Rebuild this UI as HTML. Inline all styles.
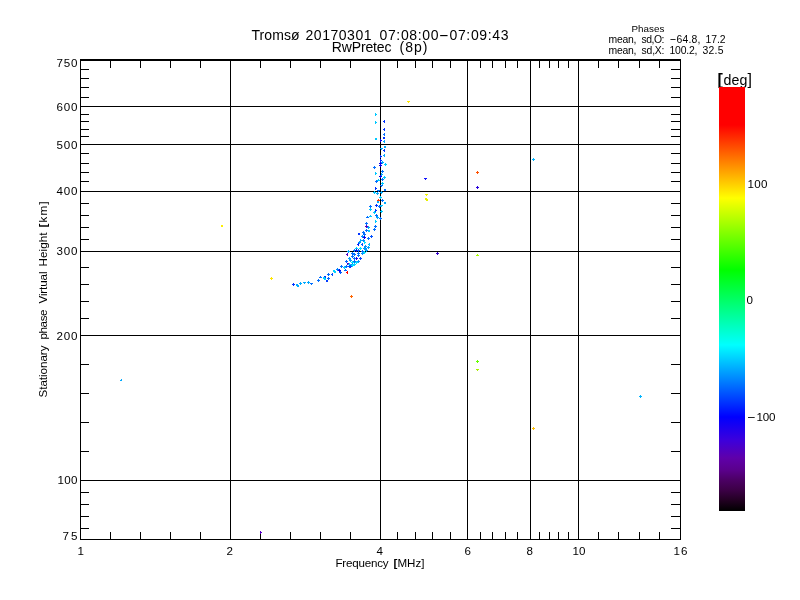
<!DOCTYPE html>
<html><head><meta charset="utf-8"><title>Tromso phases</title>
<style>
html,body{margin:0;padding:0;background:#fff;}
body{width:800px;height:600px;overflow:hidden;}
svg{display:block;}
text{font-family:"Liberation Sans",sans-serif;fill:#000;}
</style></head><body>
<div style="will-change:transform;width:800px;height:600px;">
<svg width="800" height="600" viewBox="0 0 800 600">
<rect x="0" y="0" width="800" height="600" fill="#fff"/>
<defs><linearGradient id="cb" gradientUnits="userSpaceOnUse" x1="0" y1="87" x2="0" y2="511">
<stop offset="0.0000" stop-color="rgb(255,0,0)"/><stop offset="0.0896" stop-color="rgb(255,0,0)"/><stop offset="0.2618" stop-color="rgb(255,255,0)"/><stop offset="0.4316" stop-color="rgb(0,255,0)"/><stop offset="0.6085" stop-color="rgb(0,255,255)"/><stop offset="0.7783" stop-color="rgb(0,0,255)"/><stop offset="0.8325" stop-color="rgb(60,0,220)"/><stop offset="0.8750" stop-color="rgb(95,0,170)"/><stop offset="0.9033" stop-color="rgb(90,0,140)"/><stop offset="0.9269" stop-color="rgb(75,0,100)"/><stop offset="0.9505" stop-color="rgb(60,0,70)"/><stop offset="0.9741" stop-color="rgb(35,0,35)"/><stop offset="1.0000" stop-color="rgb(0,0,0)"/>
</linearGradient></defs>
<g fill="#000" shape-rendering="crispEdges">
<rect x="80" y="59" width="601" height="2"/><rect x="80" y="539" width="601" height="1"/><rect x="80" y="59" width="1" height="481"/><rect x="680" y="59" width="1" height="481"/><rect x="80" y="106" width="601" height="1"/><rect x="80" y="144" width="601" height="1"/><rect x="80" y="191" width="601" height="1"/><rect x="80" y="251" width="601" height="1"/><rect x="80" y="335" width="601" height="1"/><rect x="80" y="480" width="601" height="1"/><rect x="230" y="59" width="1" height="481"/><rect x="380" y="59" width="1" height="481"/><rect x="467" y="59" width="1" height="481"/><rect x="530" y="59" width="1" height="481"/><rect x="578" y="59" width="1" height="481"/><rect x="80" y="69" width="9" height="1"/><rect x="671" y="69" width="10" height="1"/><rect x="80" y="78" width="9" height="1"/><rect x="671" y="78" width="10" height="1"/><rect x="80" y="87" width="9" height="1"/><rect x="671" y="87" width="10" height="1"/><rect x="80" y="97" width="9" height="1"/><rect x="671" y="97" width="10" height="1"/><rect x="80" y="106" width="9" height="1"/><rect x="671" y="106" width="10" height="1"/><rect x="80" y="114" width="9" height="1"/><rect x="671" y="114" width="10" height="1"/><rect x="80" y="121" width="9" height="1"/><rect x="671" y="121" width="10" height="1"/><rect x="80" y="129" width="9" height="1"/><rect x="671" y="129" width="10" height="1"/><rect x="80" y="136" width="9" height="1"/><rect x="671" y="136" width="10" height="1"/><rect x="80" y="144" width="9" height="1"/><rect x="671" y="144" width="10" height="1"/><rect x="80" y="153" width="9" height="1"/><rect x="671" y="153" width="10" height="1"/><rect x="80" y="163" width="9" height="1"/><rect x="671" y="163" width="10" height="1"/><rect x="80" y="172" width="9" height="1"/><rect x="671" y="172" width="10" height="1"/><rect x="80" y="181" width="9" height="1"/><rect x="671" y="181" width="10" height="1"/><rect x="80" y="191" width="9" height="1"/><rect x="671" y="191" width="10" height="1"/><rect x="80" y="203" width="9" height="1"/><rect x="671" y="203" width="10" height="1"/><rect x="80" y="215" width="9" height="1"/><rect x="671" y="215" width="10" height="1"/><rect x="80" y="227" width="9" height="1"/><rect x="671" y="227" width="10" height="1"/><rect x="80" y="239" width="9" height="1"/><rect x="671" y="239" width="10" height="1"/><rect x="80" y="251" width="9" height="1"/><rect x="671" y="251" width="10" height="1"/><rect x="80" y="267" width="9" height="1"/><rect x="671" y="267" width="10" height="1"/><rect x="80" y="284" width="9" height="1"/><rect x="671" y="284" width="10" height="1"/><rect x="80" y="301" width="9" height="1"/><rect x="671" y="301" width="10" height="1"/><rect x="80" y="318" width="9" height="1"/><rect x="671" y="318" width="10" height="1"/><rect x="80" y="335" width="9" height="1"/><rect x="671" y="335" width="10" height="1"/><rect x="80" y="364" width="9" height="1"/><rect x="671" y="364" width="10" height="1"/><rect x="80" y="393" width="9" height="1"/><rect x="671" y="393" width="10" height="1"/><rect x="80" y="422" width="9" height="1"/><rect x="671" y="422" width="10" height="1"/><rect x="80" y="451" width="9" height="1"/><rect x="671" y="451" width="10" height="1"/><rect x="80" y="480" width="9" height="1"/><rect x="671" y="480" width="10" height="1"/><rect x="80" y="492" width="9" height="1"/><rect x="671" y="492" width="10" height="1"/><rect x="80" y="504" width="9" height="1"/><rect x="671" y="504" width="10" height="1"/><rect x="80" y="516" width="9" height="1"/><rect x="671" y="516" width="10" height="1"/><rect x="80" y="528" width="9" height="1"/><rect x="671" y="528" width="10" height="1"/><rect x="110" y="59" width="1" height="9"/><rect x="110" y="532" width="1" height="8"/><rect x="140" y="59" width="1" height="9"/><rect x="140" y="532" width="1" height="8"/><rect x="170" y="59" width="1" height="9"/><rect x="170" y="532" width="1" height="8"/><rect x="200" y="59" width="1" height="9"/><rect x="200" y="532" width="1" height="8"/><rect x="230" y="59" width="1" height="9"/><rect x="230" y="532" width="1" height="8"/><rect x="260" y="59" width="1" height="9"/><rect x="260" y="532" width="1" height="8"/><rect x="290" y="59" width="1" height="9"/><rect x="290" y="532" width="1" height="8"/><rect x="320" y="59" width="1" height="9"/><rect x="320" y="532" width="1" height="8"/><rect x="350" y="59" width="1" height="9"/><rect x="350" y="532" width="1" height="8"/><rect x="380" y="59" width="1" height="9"/><rect x="380" y="532" width="1" height="8"/><rect x="397" y="59" width="1" height="9"/><rect x="397" y="532" width="1" height="8"/><rect x="415" y="59" width="1" height="9"/><rect x="415" y="532" width="1" height="8"/><rect x="432" y="59" width="1" height="9"/><rect x="432" y="532" width="1" height="8"/><rect x="450" y="59" width="1" height="9"/><rect x="450" y="532" width="1" height="8"/><rect x="467" y="59" width="1" height="9"/><rect x="467" y="532" width="1" height="8"/><rect x="480" y="59" width="1" height="9"/><rect x="480" y="532" width="1" height="8"/><rect x="492" y="59" width="1" height="9"/><rect x="492" y="532" width="1" height="8"/><rect x="505" y="59" width="1" height="9"/><rect x="505" y="532" width="1" height="8"/><rect x="517" y="59" width="1" height="9"/><rect x="517" y="532" width="1" height="8"/><rect x="530" y="59" width="1" height="9"/><rect x="530" y="532" width="1" height="8"/><rect x="539" y="59" width="1" height="9"/><rect x="539" y="532" width="1" height="8"/><rect x="549" y="59" width="1" height="9"/><rect x="549" y="532" width="1" height="8"/><rect x="558" y="59" width="1" height="9"/><rect x="558" y="532" width="1" height="8"/><rect x="568" y="59" width="1" height="9"/><rect x="568" y="532" width="1" height="8"/><rect x="578" y="59" width="1" height="9"/><rect x="578" y="532" width="1" height="8"/><rect x="598" y="59" width="1" height="9"/><rect x="598" y="532" width="1" height="8"/><rect x="618" y="59" width="1" height="9"/><rect x="618" y="532" width="1" height="8"/><rect x="639" y="59" width="1" height="9"/><rect x="639" y="532" width="1" height="8"/><rect x="659" y="59" width="1" height="9"/><rect x="659" y="532" width="1" height="8"/>
</g>
<g shape-rendering="crispEdges">
<path d="M407 101h1v1h-1zM408 101h1v1h-1zM409 101h1v1h-1zM408 102h1v1h-1z" fill="rgb(255,230,0)"/><path d="M221 225h1v1h-1zM222 225h1v1h-1zM221 226h1v1h-1zM222 226h1v1h-1z" fill="rgb(255,240,0)"/><path d="M271 277h1v1h-1zM270 278h1v1h-1zM271 278h1v1h-1zM272 278h1v1h-1zM271 279h1v1h-1z" fill="rgb(255,230,0)"/><path d="M351 295h1v1h-1zM350 296h1v1h-1zM351 296h1v1h-1zM352 296h1v1h-1zM351 297h1v1h-1z" fill="rgb(255,100,0)"/><path d="M424 178h1v1h-1zM425 178h1v1h-1zM426 178h1v1h-1zM425 179h1v1h-1z" fill="rgb(20,20,255)"/><path d="M477 171h1v1h-1zM476 172h1v1h-1zM477 172h1v1h-1zM478 172h1v1h-1zM477 173h1v1h-1z" fill="rgb(255,80,0)"/><path d="M477 186h1v1h-1zM476 187h1v1h-1zM477 187h1v1h-1zM478 187h1v1h-1zM477 188h1v1h-1z" fill="rgb(40,0,220)"/><path d="M533 158h1v1h-1zM532 159h1v1h-1zM533 159h1v1h-1zM534 159h1v1h-1zM533 160h1v1h-1z" fill="rgb(0,180,255)"/><path d="M425 194h1v1h-1zM426 194h1v1h-1zM427 194h1v1h-1zM426 195h1v1h-1z" fill="rgb(240,240,0)"/><path d="M426 198h1v1h-1zM425 199h1v1h-1zM426 199h1v1h-1zM427 199h1v1h-1zM426 200h1v1h-1zM427 200h1v1h-1zM425 198h1v1h-1z" fill="rgb(230,240,0)"/><path d="M437 252h1v1h-1zM436 253h1v1h-1zM437 253h1v1h-1zM438 253h1v1h-1zM437 254h1v1h-1z" fill="rgb(50,0,200)"/><path d="M477 254h1v1h-1zM476 255h1v1h-1zM477 255h1v1h-1zM478 255h1v1h-1z" fill="rgb(170,255,0)"/><path d="M477 360h1v1h-1zM476 361h1v1h-1zM477 361h1v1h-1zM478 361h1v1h-1zM477 362h1v1h-1z" fill="rgb(100,255,0)"/><path d="M476 369h1v1h-1zM477 369h1v1h-1zM478 369h1v1h-1zM477 370h1v1h-1z" fill="rgb(170,240,0)"/><path d="M533 427h1v1h-1zM532 428h1v1h-1zM533 428h1v1h-1zM534 428h1v1h-1zM533 429h1v1h-1z" fill="rgb(255,190,0)"/><path d="M640 395h1v1h-1zM639 396h1v1h-1zM640 396h1v1h-1zM641 396h1v1h-1zM640 397h1v1h-1z" fill="rgb(0,180,255)"/><path d="M121 379h1v2h-2v-1h1z" fill="rgb(0,170,255)"/><path d="M260 531h1v1h1v1h-1v1h-1z" fill="rgb(90,0,200)"/><path d="M376 114h1v1h-1zM375 113h1v1h-1zM375 114h1v1h-1zM375 115h1v1h-1z" fill="rgb(0,200,255)"/><path d="M376 122h1v1h-1zM375 121h1v1h-1zM375 122h1v1h-1zM375 123h1v1h-1z" fill="rgb(0,200,255)"/><path d="M383 121h1v1h-1zM384 120h1v1h-1zM384 121h1v1h-1zM384 122h1v1h-1z" fill="rgb(0,50,255)"/><path d="M383 129h1v1h-1zM384 128h1v1h-1zM384 129h1v1h-1zM384 130h1v1h-1z" fill="rgb(0,50,255)"/><path d="M383 134h1v1h-1zM384 133h1v1h-1zM384 134h1v1h-1zM384 135h1v1h-1z" fill="rgb(0,110,255)"/><path d="M383 137h1v1h-1zM384 137h1v1h-1zM383 138h1v1h-1zM384 138h1v1h-1z" fill="rgb(0,50,255)"/><path d="M375 138h1v1h-1zM376 138h1v1h-1zM375 139h1v1h-1zM376 139h1v1h-1z" fill="rgb(0,200,255)"/><path d="M381 140h1v1h-1zM380 139h1v1h-1zM380 140h1v1h-1zM380 141h1v1h-1z" fill="rgb(10,0,235)"/><path d="M383 141h1v1h-1zM384 140h1v1h-1zM384 141h1v1h-1zM384 142h1v1h-1z" fill="rgb(0,170,255)"/><path d="M384 146h1v1h-1zM385 146h1v1h-1zM384 147h1v1h-1zM385 147h1v1h-1z" fill="rgb(0,170,255)"/><path d="M380 148h1v1h-1zM381 148h1v1h-1zM382 148h1v1h-1zM381 149h1v1h-1z" fill="rgb(0,170,255)"/><path d="M383 150h1v1h-1zM384 149h1v1h-1zM384 150h1v1h-1zM384 151h1v1h-1z" fill="rgb(0,50,255)"/><path d="M383 155h1v1h-1zM384 154h1v1h-1zM384 155h1v1h-1zM384 156h1v1h-1z" fill="rgb(0,170,255)"/><path d="M381 156h1v1h-1zM380 155h1v1h-1zM380 156h1v1h-1zM380 157h1v1h-1z" fill="rgb(0,50,255)"/><path d="M381 160h1v1h-1zM380 159h1v1h-1zM380 160h1v1h-1zM380 161h1v1h-1z" fill="rgb(0,50,255)"/><path d="M380 162h1v1h-1zM379 163h1v1h-1zM380 163h1v1h-1zM381 163h1v1h-1zM380 164h1v1h-1z" fill="rgb(10,0,235)"/><path d="M380 164h1v1h-1zM379 165h1v1h-1zM380 165h1v1h-1zM381 165h1v1h-1zM380 166h1v1h-1z" fill="rgb(10,0,235)"/><path d="M382 161h1v1h-1zM381 162h1v1h-1zM382 162h1v1h-1zM383 162h1v1h-1zM382 163h1v1h-1z" fill="rgb(0,170,255)"/><path d="M385 163h1v1h-1zM384 164h1v1h-1zM385 164h1v1h-1zM386 164h1v1h-1zM385 165h1v1h-1z" fill="rgb(0,200,255)"/><path d="M374 166h1v1h-1zM373 167h1v1h-1zM374 167h1v1h-1zM375 167h1v1h-1zM374 168h1v1h-1z" fill="rgb(0,110,255)"/><path d="M376 173h1v1h-1zM375 172h1v1h-1zM375 173h1v1h-1zM375 174h1v1h-1z" fill="rgb(0,200,255)"/><path d="M382 170h1v1h-1zM381 171h1v1h-1zM382 171h1v1h-1zM383 171h1v1h-1zM382 172h1v1h-1z" fill="rgb(0,110,255)"/><path d="M382 174h1v1h-1zM381 173h1v1h-1zM381 174h1v1h-1zM381 175h1v1h-1z" fill="rgb(0,170,255)"/><path d="M380 175h1v1h-1zM379 176h1v1h-1zM380 176h1v1h-1zM381 176h1v1h-1zM380 177h1v1h-1z" fill="rgb(10,0,235)"/><path d="M384 176h1v1h-1zM383 177h1v1h-1zM384 177h1v1h-1zM385 177h1v1h-1zM384 178h1v1h-1z" fill="rgb(0,200,255)"/><path d="M382 178h1v1h-1zM381 179h1v1h-1zM382 179h1v1h-1zM383 179h1v1h-1zM382 180h1v1h-1z" fill="rgb(0,110,255)"/><path d="M376 180h1v1h-1zM375 181h1v1h-1zM376 181h1v1h-1zM377 181h1v1h-1zM376 182h1v1h-1z" fill="rgb(0,110,255)"/><path d="M378 179h1v1h-1zM377 180h1v1h-1zM378 180h1v1h-1zM379 180h1v1h-1z" fill="rgb(0,200,255)"/><path d="M382 182h1v1h-1zM381 183h1v1h-1zM382 183h1v1h-1zM383 183h1v1h-1zM382 184h1v1h-1z" fill="rgb(0,200,255)"/><path d="M380 185h1v1h-1zM381 185h1v1h-1zM382 185h1v1h-1zM381 186h1v1h-1z" fill="rgb(0,110,255)"/><path d="M376 188h1v1h-1zM375 187h1v1h-1zM375 188h1v1h-1zM375 189h1v1h-1z" fill="rgb(0,50,255)"/><path d="M377 190h1v1h-1zM378 190h1v1h-1zM379 190h1v1h-1zM378 191h1v1h-1z" fill="rgb(0,110,255)"/><path d="M384 189h1v1h-1zM385 189h1v1h-1zM384 190h1v1h-1zM385 190h1v1h-1z" fill="rgb(0,110,255)"/><path d="M374 191h1v1h-1zM373 192h1v1h-1zM374 192h1v1h-1zM375 192h1v1h-1zM374 193h1v1h-1z" fill="rgb(0,200,255)"/><path d="M381 191h1v1h-1zM380 192h1v1h-1zM381 192h1v1h-1zM382 192h1v1h-1zM381 193h1v1h-1z" fill="rgb(0,170,255)"/><path d="M377 192h1v1h-1zM376 193h1v1h-1zM377 193h1v1h-1zM378 193h1v1h-1zM377 194h1v1h-1z" fill="rgb(0,170,255)"/><path d="M380 196h1v1h-1zM379 197h1v1h-1zM380 197h1v1h-1zM381 197h1v1h-1zM380 198h1v1h-1z" fill="rgb(0,200,255)"/><path d="M378 199h1v1h-1zM377 200h1v1h-1zM378 200h1v1h-1zM379 200h1v1h-1z" fill="rgb(255,50,0)"/><path d="M382 199h1v1h-1zM381 200h1v1h-1zM382 200h1v1h-1zM383 200h1v1h-1zM382 201h1v1h-1z" fill="rgb(0,110,255)"/><path d="M377 201h1v1h-1zM378 201h1v1h-1zM377 202h1v1h-1zM378 202h1v1h-1z" fill="rgb(0,170,255)"/><path d="M384 202h1v1h-1zM385 202h1v1h-1zM384 203h1v1h-1zM385 203h1v1h-1z" fill="rgb(0,170,255)"/><path d="M370 205h1v1h-1zM369 206h1v1h-1zM370 206h1v1h-1zM371 206h1v1h-1zM370 207h1v1h-1z" fill="rgb(0,110,255)"/><path d="M370 208h1v1h-1zM369 209h1v1h-1zM370 209h1v1h-1zM371 209h1v1h-1zM370 210h1v1h-1z" fill="rgb(0,200,255)"/><path d="M376 204h1v1h-1zM375 205h1v1h-1zM376 205h1v1h-1zM377 205h1v1h-1zM376 206h1v1h-1z" fill="rgb(0,50,255)"/><path d="M379 205h1v1h-1zM378 206h1v1h-1zM379 206h1v1h-1zM380 206h1v1h-1zM379 207h1v1h-1z" fill="rgb(0,110,255)"/><path d="M380 205h1v1h-1zM381 205h1v1h-1zM382 205h1v1h-1zM381 206h1v1h-1z" fill="rgb(0,200,255)"/><path d="M376 210h1v1h-1zM375 209h1v1h-1zM375 210h1v1h-1zM375 211h1v1h-1z" fill="rgb(0,50,255)"/><path d="M381 210h1v1h-1zM380 211h1v1h-1zM381 211h1v1h-1zM382 211h1v1h-1zM381 212h1v1h-1z" fill="rgb(0,200,255)"/><path d="M374 211h1v1h-1zM373 212h1v1h-1zM374 212h1v1h-1zM375 212h1v1h-1zM374 213h1v1h-1z" fill="rgb(0,200,255)"/><path d="M376 214h1v1h-1zM375 215h1v1h-1zM376 215h1v1h-1zM377 215h1v1h-1zM376 216h1v1h-1z" fill="rgb(0,110,255)"/><path d="M377 216h1v1h-1zM376 217h1v1h-1zM377 217h1v1h-1zM378 217h1v1h-1zM377 218h1v1h-1z" fill="rgb(0,170,255)"/><path d="M380 217h1v1h-1zM379 218h1v1h-1zM380 218h1v1h-1zM381 218h1v1h-1zM380 219h1v1h-1z" fill="rgb(0,110,255)"/><path d="M370 215h1v1h-1zM369 216h1v1h-1zM370 216h1v1h-1zM371 216h1v1h-1z" fill="rgb(0,200,255)"/><path d="M367 216h1v1h-1zM366 217h1v1h-1zM367 217h1v1h-1zM368 217h1v1h-1z" fill="rgb(0,110,255)"/><path d="M376 221h1v1h-1zM375 220h1v1h-1zM375 221h1v1h-1zM375 222h1v1h-1z" fill="rgb(0,200,255)"/><path d="M366 222h1v1h-1zM365 223h1v1h-1zM366 223h1v1h-1zM367 223h1v1h-1zM366 224h1v1h-1z" fill="rgb(0,110,255)"/><path d="M366 225h1v1h-1zM365 226h1v1h-1zM366 226h1v1h-1zM367 226h1v1h-1zM366 227h1v1h-1z" fill="rgb(80,0,200)"/><path d="M368 226h1v1h-1zM367 227h1v1h-1zM368 227h1v1h-1zM369 227h1v1h-1zM368 228h1v1h-1z" fill="rgb(0,170,255)"/><path d="M375 225h1v1h-1zM374 226h1v1h-1zM375 226h1v1h-1zM376 226h1v1h-1zM375 227h1v1h-1z" fill="rgb(0,110,255)"/><path d="M374 228h1v1h-1zM373 229h1v1h-1zM374 229h1v1h-1zM375 229h1v1h-1zM374 230h1v1h-1z" fill="rgb(0,110,255)"/><path d="M366 229h1v1h-1zM365 230h1v1h-1zM366 230h1v1h-1zM367 230h1v1h-1zM366 231h1v1h-1z" fill="rgb(0,110,255)"/><path d="M368 230h1v1h-1zM369 230h1v1h-1zM368 231h1v1h-1zM369 231h1v1h-1z" fill="rgb(0,200,255)"/><path d="M358 233h1v1h-1zM359 233h1v1h-1zM358 234h1v1h-1zM359 234h1v1h-1z" fill="rgb(0,50,255)"/><path d="M363 231h1v1h-1zM362 232h1v1h-1zM363 232h1v1h-1zM364 232h1v1h-1zM363 233h1v1h-1z" fill="rgb(0,110,255)"/><path d="M364 233h1v1h-1zM363 234h1v1h-1zM364 234h1v1h-1zM365 234h1v1h-1zM364 235h1v1h-1z" fill="rgb(0,110,255)"/><path d="M293 283h1v1h-1zM292 284h1v1h-1zM293 284h1v1h-1zM294 284h1v1h-1zM293 285h1v1h-1z" fill="rgb(0,50,255)"/><path d="M297 284h1v1h-1zM296 285h1v1h-1zM297 285h1v1h-1zM298 285h1v1h-1zM297 286h1v1h-1zM298 286h1v1h-1zM296 284h1v1h-1z" fill="rgb(0,170,255)"/><path d="M300 282h1v1h-1zM299 283h1v1h-1zM300 283h1v1h-1zM301 283h1v1h-1zM300 284h1v1h-1z" fill="rgb(0,170,255)"/><path d="M303 282h1v1h-1zM304 282h1v1h-1zM305 282h1v1h-1zM304 283h1v1h-1z" fill="rgb(0,170,255)"/><path d="M308 281h1v1h-1zM307 282h1v1h-1zM308 282h1v1h-1zM309 282h1v1h-1zM308 283h1v1h-1z" fill="rgb(0,170,255)"/><path d="M310 283h1v1h-1zM311 283h1v1h-1zM312 283h1v1h-1zM311 284h1v1h-1z" fill="rgb(0,110,255)"/><path d="M318 279h1v1h-1zM317 280h1v1h-1zM318 280h1v1h-1zM319 280h1v1h-1zM318 281h1v1h-1z" fill="rgb(0,110,255)"/><path d="M320 276h1v1h-1zM319 277h1v1h-1zM320 277h1v1h-1zM321 277h1v1h-1z" fill="rgb(0,110,255)"/><path d="M371 235h1v1h-1zM370 236h1v1h-1zM371 236h1v1h-1zM372 236h1v1h-1zM371 237h1v1h-1z" fill="rgb(0,80,255)"/><path d="M368 237h1v1h-1zM367 238h1v1h-1zM368 238h1v1h-1zM369 238h1v1h-1zM368 239h1v1h-1z" fill="rgb(0,110,255)"/><path d="M364 236h1v1h-1zM363 237h1v1h-1zM364 237h1v1h-1zM365 237h1v1h-1zM364 238h1v1h-1z" fill="rgb(10,0,235)"/><path d="M362 235h1v1h-1zM361 236h1v1h-1zM362 236h1v1h-1zM363 236h1v1h-1zM362 237h1v1h-1z" fill="rgb(0,140,255)"/><path d="M361 240h1v1h-1zM360 239h1v1h-1zM360 240h1v1h-1zM360 241h1v1h-1z" fill="rgb(0,170,255)"/><path d="M363 239h1v1h-1zM362 240h1v1h-1zM363 240h1v1h-1zM364 240h1v1h-1zM363 241h1v1h-1z" fill="rgb(0,140,255)"/><path d="M365 242h1v1h-1zM364 241h1v1h-1zM364 242h1v1h-1zM364 243h1v1h-1z" fill="rgb(0,230,255)"/><path d="M359 241h1v1h-1zM358 242h1v1h-1zM359 242h1v1h-1zM360 242h1v1h-1zM359 243h1v1h-1z" fill="rgb(0,150,255)"/><path d="M357 244h1v1h-1zM358 243h1v1h-1zM358 244h1v1h-1zM358 245h1v1h-1z" fill="rgb(0,30,255)"/><path d="M361 244h1v1h-1zM362 243h1v1h-1zM362 244h1v1h-1zM362 245h1v1h-1z" fill="rgb(0,90,255)"/><path d="M368 244h1v1h-1zM369 243h1v1h-1zM369 244h1v1h-1zM369 245h1v1h-1z" fill="rgb(0,190,255)"/><path d="M365 245h1v1h-1zM364 246h1v1h-1zM365 246h1v1h-1zM366 246h1v1h-1zM365 247h1v1h-1z" fill="rgb(0,150,255)"/><path d="M368 246h1v1h-1zM367 247h1v1h-1zM368 247h1v1h-1zM369 247h1v1h-1zM368 248h1v1h-1z" fill="rgb(0,160,255)"/><path d="M365 247h1v1h-1zM364 248h1v1h-1zM365 248h1v1h-1zM366 248h1v1h-1zM365 249h1v1h-1z" fill="rgb(0,150,255)"/><path d="M364 247h1v1h-1zM363 248h1v1h-1zM364 248h1v1h-1zM365 248h1v1h-1zM364 249h1v1h-1z" fill="rgb(0,150,255)"/><path d="M356 247h1v1h-1zM355 248h1v1h-1zM356 248h1v1h-1zM357 248h1v1h-1zM356 249h1v1h-1z" fill="rgb(0,200,255)"/><path d="M360 247h1v1h-1zM359 248h1v1h-1zM360 248h1v1h-1zM361 248h1v1h-1zM360 249h1v1h-1z" fill="rgb(0,230,255)"/><path d="M354 249h1v1h-1zM353 250h1v1h-1zM354 250h1v1h-1zM355 250h1v1h-1zM354 251h1v1h-1z" fill="rgb(0,130,255)"/><path d="M356 249h1v1h-1zM355 250h1v1h-1zM356 250h1v1h-1zM357 250h1v1h-1zM356 251h1v1h-1z" fill="rgb(10,0,235)"/><path d="M358 249h1v1h-1zM357 250h1v1h-1zM358 250h1v1h-1zM359 250h1v1h-1zM358 251h1v1h-1z" fill="rgb(0,100,255)"/><path d="M362 250h1v1h-1zM361 251h1v1h-1zM362 251h1v1h-1zM363 251h1v1h-1zM362 252h1v1h-1z" fill="rgb(0,100,255)"/><path d="M366 249h1v1h-1zM365 250h1v1h-1zM366 250h1v1h-1zM367 250h1v1h-1zM366 251h1v1h-1z" fill="rgb(0,160,255)"/><path d="M364 251h1v1h-1zM363 252h1v1h-1zM364 252h1v1h-1zM365 252h1v1h-1zM364 253h1v1h-1z" fill="rgb(0,230,255)"/><path d="M348 250h1v1h-1zM347 251h1v1h-1zM348 251h1v1h-1zM349 251h1v1h-1zM348 252h1v1h-1z" fill="rgb(0,170,255)"/><path d="M346 254h1v1h-1zM347 253h1v1h-1zM347 254h1v1h-1zM347 255h1v1h-1z" fill="rgb(80,0,200)"/><path d="M352 252h1v1h-1zM351 253h1v1h-1zM352 253h1v1h-1zM353 253h1v1h-1zM352 254h1v1h-1z" fill="rgb(0,110,255)"/><path d="M354 253h1v1h-1zM353 254h1v1h-1zM354 254h1v1h-1zM355 254h1v1h-1zM354 255h1v1h-1z" fill="rgb(0,110,255)"/><path d="M358 252h1v1h-1zM357 253h1v1h-1zM358 253h1v1h-1zM359 253h1v1h-1zM358 254h1v1h-1z" fill="rgb(0,110,255)"/><path d="M358 254h1v1h-1zM357 255h1v1h-1zM358 255h1v1h-1zM359 255h1v1h-1zM358 256h1v1h-1z" fill="rgb(0,110,255)"/><path d="M362 252h1v1h-1zM361 253h1v1h-1zM362 253h1v1h-1zM363 253h1v1h-1zM362 254h1v1h-1z" fill="rgb(0,150,255)"/><path d="M352 255h1v1h-1zM351 256h1v1h-1zM352 256h1v1h-1zM353 256h1v1h-1zM352 257h1v1h-1z" fill="rgb(0,110,255)"/><path d="M356 257h1v1h-1zM355 258h1v1h-1zM356 258h1v1h-1zM357 258h1v1h-1zM356 259h1v1h-1z" fill="rgb(40,0,230)"/><path d="M359 258h1v1h-1zM360 258h1v1h-1zM361 258h1v1h-1zM360 259h1v1h-1z" fill="rgb(0,70,255)"/><path d="M349 257h1v1h-1zM348 258h1v1h-1zM349 258h1v1h-1zM350 258h1v1h-1zM349 259h1v1h-1z" fill="rgb(0,160,255)"/><path d="M354 257h1v1h-1zM353 258h1v1h-1zM354 258h1v1h-1zM355 258h1v1h-1zM354 259h1v1h-1z" fill="rgb(0,110,255)"/><path d="M346 260h1v1h-1zM345 261h1v1h-1zM346 261h1v1h-1zM347 261h1v1h-1zM346 262h1v1h-1z" fill="rgb(0,110,255)"/><path d="M350 259h1v1h-1zM349 260h1v1h-1zM350 260h1v1h-1zM351 260h1v1h-1zM350 261h1v1h-1z" fill="rgb(0,160,255)"/><path d="M354 260h1v1h-1zM353 261h1v1h-1zM354 261h1v1h-1zM355 261h1v1h-1zM354 262h1v1h-1z" fill="rgb(0,110,255)"/><path d="M352 261h1v1h-1zM351 262h1v1h-1zM352 262h1v1h-1zM353 262h1v1h-1zM352 263h1v1h-1z" fill="rgb(0,230,255)"/><path d="M358 260h1v1h-1zM357 261h1v1h-1zM358 261h1v1h-1zM359 261h1v1h-1zM358 262h1v1h-1z" fill="rgb(0,150,255)"/><path d="M347 263h1v1h-1zM348 263h1v1h-1zM347 264h1v1h-1zM348 264h1v1h-1z" fill="rgb(80,0,200)"/><path d="M349 263h1v1h-1zM348 264h1v1h-1zM349 264h1v1h-1zM350 264h1v1h-1zM349 265h1v1h-1z" fill="rgb(0,210,255)"/><path d="M350 265h1v1h-1zM349 266h1v1h-1zM350 266h1v1h-1zM351 266h1v1h-1zM350 267h1v1h-1z" fill="rgb(0,60,255)"/><path d="M352 263h1v1h-1zM351 264h1v1h-1zM352 264h1v1h-1zM353 264h1v1h-1zM352 265h1v1h-1z" fill="rgb(0,130,255)"/><path d="M354 263h1v1h-1zM353 264h1v1h-1zM354 264h1v1h-1zM355 264h1v1h-1zM354 265h1v1h-1z" fill="rgb(0,210,255)"/><path d="M352 264h1v1h-1zM351 265h1v1h-1zM352 265h1v1h-1zM353 265h1v1h-1zM352 266h1v1h-1z" fill="rgb(0,220,255)"/><path d="M324 276h1v1h-1zM325 276h1v1h-1zM324 277h1v1h-1zM325 277h1v1h-1z" fill="rgb(0,60,255)"/><path d="M324 277h1v1h-1zM323 278h1v1h-1zM324 278h1v1h-1zM325 278h1v1h-1zM324 279h1v1h-1zM325 279h1v1h-1zM323 277h1v1h-1z" fill="rgb(0,210,255)"/><path d="M326 280h1v1h-1zM327 280h1v1h-1zM326 281h1v1h-1zM327 281h1v1h-1z" fill="rgb(0,60,255)"/><path d="M328 273h1v1h-1zM327 274h1v1h-1zM328 274h1v1h-1zM329 274h1v1h-1zM328 275h1v1h-1z" fill="rgb(0,100,255)"/><path d="M328 277h1v1h-1zM327 278h1v1h-1zM328 278h1v1h-1zM329 278h1v1h-1zM328 279h1v1h-1z" fill="rgb(0,100,255)"/><path d="M331 274h1v1h-1zM332 273h1v1h-1zM332 274h1v1h-1zM332 275h1v1h-1z" fill="rgb(0,80,255)"/><path d="M334 270h1v1h-1zM333 271h1v1h-1zM334 271h1v1h-1zM335 271h1v1h-1zM334 272h1v1h-1zM335 272h1v1h-1zM333 270h1v1h-1z" fill="rgb(0,210,255)"/><path d="M337 268h1v1h-1zM336 269h1v1h-1zM337 269h1v1h-1zM338 269h1v1h-1zM337 270h1v1h-1z" fill="rgb(0,130,255)"/><path d="M339 269h1v1h-1zM338 270h1v1h-1zM339 270h1v1h-1zM340 270h1v1h-1zM339 271h1v1h-1z" fill="rgb(10,0,235)"/><path d="M340 271h1v1h-1zM339 272h1v1h-1zM340 272h1v1h-1zM341 272h1v1h-1zM340 273h1v1h-1z" fill="rgb(0,90,255)"/><path d="M341 265h1v1h-1zM340 266h1v1h-1zM341 266h1v1h-1zM342 266h1v1h-1zM341 267h1v1h-1z" fill="rgb(0,110,255)"/><path d="M344 266h1v1h-1zM343 267h1v1h-1zM344 267h1v1h-1zM345 267h1v1h-1zM344 268h1v1h-1z" fill="rgb(0,200,255)"/><path d="M346 265h1v1h-1zM345 266h1v1h-1zM346 266h1v1h-1zM347 266h1v1h-1zM346 267h1v1h-1z" fill="rgb(0,110,255)"/><path d="M345 269h1v1h-1zM344 270h1v1h-1zM345 270h1v1h-1zM346 270h1v1h-1z" fill="rgb(0,100,255)"/><path d="M346 272h1v1h-1zM347 271h1v1h-1zM347 272h1v1h-1zM347 273h1v1h-1z" fill="rgb(255,0,0)"/><path d="M346 260h1v1h-1zM345 261h1v1h-1zM346 261h1v1h-1zM347 261h1v1h-1zM346 262h1v1h-1z" fill="rgb(0,100,255)"/><path d="M349 265h1v1h-1zM348 266h1v1h-1zM349 266h1v1h-1zM350 266h1v1h-1zM349 267h1v1h-1z" fill="rgb(0,80,255)"/><path d="M356 261h1v1h-1zM355 262h1v1h-1zM356 262h1v1h-1zM357 262h1v1h-1zM356 263h1v1h-1z" fill="rgb(0,220,255)"/><path d="M360 257h1v1h-1zM359 258h1v1h-1zM360 258h1v1h-1zM361 258h1v1h-1zM360 259h1v1h-1z" fill="rgb(0,70,255)"/>
</g>
<text y="40" font-size="14"><tspan x="251.50" textLength="48.00" lengthAdjust="spacing">Tromsø</tspan> <tspan x="305.50" textLength="66.00" lengthAdjust="spacing">20170301</tspan> <tspan x="379.50" textLength="59.00" lengthAdjust="spacing">07:08:00</tspan><tspan x="438.70" textLength="10.20" lengthAdjust="spacingAndGlyphs">-</tspan><tspan x="449.50" textLength="59.00" lengthAdjust="spacing">07:09:43</tspan></text>
<text y="52" font-size="14"><tspan x="331.70" textLength="59.80" lengthAdjust="spacing">RwPretec</tspan> <tspan x="399.50" textLength="28.00" lengthAdjust="spacing">(8p)</tspan></text>
<text y="32" font-size="9.8"><tspan x="631.50" textLength="33.00" lengthAdjust="spacing">Phases</tspan></text>
<text y="43" font-size="10.4"><tspan x="608.50" textLength="28.00" lengthAdjust="spacing">mean,</tspan> <tspan x="641.50" textLength="23.00" lengthAdjust="spacing">sd,O:</tspan> <tspan x="669.50" dy="-1" textLength="7.00" lengthAdjust="spacingAndGlyphs">-</tspan><tspan x="676.50" dy="1" textLength="24.00" lengthAdjust="spacing">64.8,</tspan> <tspan x="705.50" textLength="20.00" lengthAdjust="spacing">17.2</tspan></text>
<text y="54" font-size="10.4"><tspan x="608.50" textLength="28.00" lengthAdjust="spacing">mean,</tspan> <tspan x="641.50" textLength="23.00" lengthAdjust="spacing">sd,X:</tspan> <tspan x="669.50" textLength="28.00" lengthAdjust="spacing">100.2,</tspan> <tspan x="702.50" textLength="21.00" lengthAdjust="spacing">32.5</tspan></text>
<text y="567" font-size="11.6"><tspan x="335.50" textLength="53.00" lengthAdjust="spacing">Frequency</tspan> <tspan x="393.50" textLength="31.00" lengthAdjust="spacing"><tspan font-weight="bold">[</tspan>MHz]</tspan></text>
<text transform="translate(47,398) rotate(-90)" font-size="11.6"><tspan x="0.50" y="0" textLength="52.00" lengthAdjust="spacing">Stationary</tspan> <tspan x="58.50" y="0" textLength="30.00" lengthAdjust="spacing">phase</tspan> <tspan x="94.50" y="0" textLength="32.00" lengthAdjust="spacing">Virtual</tspan> <tspan x="131.50" y="0" textLength="34.00" lengthAdjust="spacing">Height</tspan> <tspan x="170.50" y="0" textLength="26.00" lengthAdjust="spacing"><tspan font-weight="bold">[</tspan>km]</tspan></text>
<text y="67" font-size="11.6"><tspan x="56.50" textLength="21.00" lengthAdjust="spacing">750</tspan></text>
<text y="111" font-size="11.6"><tspan x="56.50" textLength="21.00" lengthAdjust="spacing">600</tspan></text>
<text y="149" font-size="11.6"><tspan x="56.50" textLength="21.00" lengthAdjust="spacing">500</tspan></text>
<text y="195" font-size="11.6"><tspan x="56.50" textLength="21.00" lengthAdjust="spacing">400</tspan></text>
<text y="255" font-size="11.6"><tspan x="56.50" textLength="21.00" lengthAdjust="spacing">300</tspan></text>
<text y="340" font-size="11.6"><tspan x="56.50" textLength="21.00" lengthAdjust="spacing">200</tspan></text>
<text y="484" font-size="11.6"><tspan x="57.50" textLength="20.00" lengthAdjust="spacing">100</tspan></text>
<text y="540" font-size="11.6"><tspan x="62.50" textLength="15.00" lengthAdjust="spacing">75</tspan></text>
<text y="554.5" font-size="11.6"><tspan x="77.50">1</tspan></text>
<text y="554.5" font-size="11.6"><tspan x="226.50">2</tspan></text>
<text y="554.5" font-size="11.6"><tspan x="376.50">4</tspan></text>
<text y="554.5" font-size="11.6"><tspan x="464.50">6</tspan></text>
<text y="554.5" font-size="11.6"><tspan x="526.50">8</tspan></text>
<text y="554.5" font-size="11.6"><tspan x="572.50" textLength="13.00" lengthAdjust="spacing">10</tspan></text>
<text y="554.5" font-size="11.6"><tspan x="673.50" textLength="14.00" lengthAdjust="spacing">16</tspan></text>
<text y="85" font-size="14.2"><tspan x="717.50"><tspan font-weight="bold" font-size="16">[</tspan></tspan><tspan x="723.50" textLength="24.00" lengthAdjust="spacing">deg</tspan><tspan x="747.50"><tspan font-size="16">]</tspan></tspan></text>
<text y="188" font-size="11.6"><tspan x="747.50" textLength="20.00" lengthAdjust="spacing">100</tspan></text>
<text y="304" font-size="11.6"><tspan x="746.50">0</tspan></text>
<text y="421" font-size="11.6"><tspan x="746.70" dy="-0.7" textLength="9.20" lengthAdjust="spacingAndGlyphs">-</tspan><tspan x="756.50" dy="0.7" textLength="19.00" lengthAdjust="spacing">100</tspan></text>
<rect x="719" y="87" width="26" height="424" fill="url(#cb)" shape-rendering="crispEdges"/>
</svg>
</div>
</body></html>
